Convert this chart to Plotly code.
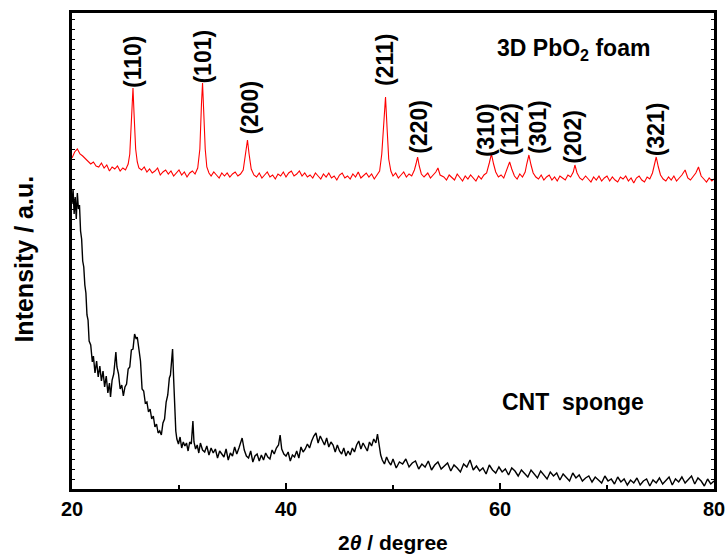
import plotly.graph_objects as go

# ---------------- data ----------------
pbo2_two_theta = [
    20.0, 20.25, 20.5, 20.75, 21.0, 21.25, 21.5, 21.75, 22.0, 22.25, 22.5, 22.75, 23.0, 23.25, 23.5, 23.75,
    24.0, 24.25, 24.5, 24.75, 25.0, 25.25, 25.4, 25.55, 25.7, 25.8, 25.95, 26.1, 26.25, 26.5, 26.75, 27.0,
    27.25, 27.5, 27.75, 28.0, 28.25, 28.5, 28.75, 29.0, 29.25, 29.5, 29.75, 30.0, 30.25, 30.5, 30.75, 31.0,
    31.25, 31.5, 31.75, 31.95, 32.1, 32.2, 32.3, 32.45, 32.6, 32.8, 33.0, 33.25, 33.5, 33.75, 34.0, 34.25,
    34.5, 34.75, 35.0, 35.25, 35.5, 35.75, 36.0, 36.2, 36.4, 36.55, 36.75, 37.0, 37.25, 37.5, 37.75, 38.0,
    38.25, 38.5, 38.75, 39.0, 39.25, 39.5, 39.75, 40.0, 40.25, 40.5, 40.75, 41.0, 41.25, 41.5, 41.75, 42.0,
    42.25, 42.5, 42.75, 43.0, 43.25, 43.5, 43.75, 44.0, 44.25, 44.5, 44.75, 45.0, 45.25, 45.5, 45.75, 46.0,
    46.25, 46.5, 46.75, 47.0, 47.25, 47.5, 47.75, 48.0, 48.25, 48.5, 48.75, 48.95, 49.15, 49.3, 49.45, 49.6,
    49.8, 50.0, 50.25, 50.5, 50.75, 51.0, 51.25, 51.5, 51.75, 52.0, 52.15, 52.3, 52.45, 52.65, 52.9, 53.25,
    53.5, 53.75, 54.0, 54.2, 54.4, 54.75, 55.0, 55.25, 55.5, 55.75, 56.0, 56.25, 56.5, 56.75, 57.0, 57.25,
    57.5, 57.75, 58.0, 58.25, 58.5, 58.75, 59.0, 59.2, 59.4, 59.6, 59.85, 60.1, 60.35, 60.6, 60.9, 61.1,
    61.35, 61.6, 61.85, 62.1, 62.35, 62.5, 62.7, 62.9, 63.1, 63.35, 63.6, 63.85, 64.1, 64.35, 64.6, 64.85,
    65.1, 65.35, 65.6, 65.85, 66.1, 66.35, 66.6, 66.85, 67.0, 67.2, 67.45, 67.7, 68.0, 68.25, 68.5, 68.75,
    69.0, 69.25, 69.5, 69.75, 70.0, 70.25, 70.5, 70.75, 71.0, 71.25, 71.5, 71.75, 72.0, 72.25, 72.5, 72.75,
    73.0, 73.25, 73.5, 73.75, 74.0, 74.25, 74.45, 74.6, 74.8, 75.0, 75.25, 75.5, 75.75, 76.0, 76.25, 76.5,
    76.75, 77.0, 77.3, 77.55, 77.8, 78.05, 78.3, 78.55, 78.8, 79.05, 79.3, 79.55, 79.8, 80.0,
]
pbo2_intensity = [
    331, 337, 340, 335, 333, 330, 328, 325, 327, 323, 322, 326, 321, 324, 318, 322,
    320, 323, 318, 321, 319, 325, 335, 370, 401, 375, 340, 327, 321, 319, 322, 317,
    320, 316, 318, 321, 314, 317, 319, 315, 318, 313, 316, 319, 314, 317, 312, 316,
    318, 315, 321, 340, 385, 406, 380, 340, 322, 316, 313, 317, 314, 311, 316, 313,
    316, 312, 315, 317, 313, 315, 319, 332, 349, 335, 320, 314, 312, 316, 311, 314,
    317, 312, 314, 310, 315, 313, 317, 312, 316, 318, 313, 315, 318, 313, 316, 312,
    314, 311, 316, 313, 310, 315, 312, 316, 311, 313, 309, 314, 316, 311, 313, 310,
    315, 312, 317, 311, 314, 316, 312, 315, 310, 314, 318, 335, 370, 392, 360, 330,
    318, 313, 316, 311, 314, 317, 312, 315, 313, 319, 325, 332, 323, 315, 312, 316,
    311, 314, 317, 321, 314, 312, 309, 314, 311, 309, 315, 312, 308, 313, 310, 314,
    311, 308, 313, 310, 314, 316, 326, 335, 325, 317, 312, 314, 311, 318, 327, 320,
    313, 310, 315, 312, 317, 325, 334, 324, 316, 312, 310, 314, 309, 312, 314, 309,
    312, 308, 313, 311, 309, 314, 312, 317, 324, 316, 311, 309, 313, 310, 307, 312,
    309, 313, 308, 311, 313, 308, 312, 309, 307, 312, 310, 313, 308, 311, 306, 311,
    313, 309, 307, 312, 310, 316, 325, 332, 322, 314, 310, 308, 312, 309, 313, 308,
    311, 314, 319, 311, 309, 312, 316, 322, 313, 310, 307, 311, 308, 310,
]

cnt_two_theta = [
    20.0, 20.1, 20.2, 20.3, 20.4, 20.5, 20.6, 20.7, 20.8, 20.9, 21.0, 21.1, 21.2, 21.3, 21.4, 21.5,
    21.6, 21.75, 21.9, 22.0, 22.15, 22.3, 22.45, 22.6, 22.75, 22.9, 23.05, 23.2, 23.35, 23.5, 23.6, 23.75,
    23.9, 24.0, 24.1, 24.2, 24.35, 24.5, 24.65, 24.8, 24.95, 25.1, 25.25, 25.4, 25.55, 25.7, 25.85, 26.0,
    26.1, 26.25, 26.4, 26.55, 26.7, 26.85, 27.0, 27.15, 27.3, 27.45, 27.6, 27.75, 27.9, 28.05, 28.2, 28.35,
    28.5, 28.65, 28.8, 28.95, 29.1, 29.2, 29.3, 29.4, 29.5, 29.6, 29.7, 29.8, 29.95, 30.1, 30.25, 30.4,
    30.55, 30.7, 30.85, 31.0, 31.15, 31.3, 31.4, 31.55, 31.7, 31.85, 32.0, 32.2, 32.4, 32.6, 32.8, 33.0,
    33.2, 33.4, 33.6, 33.8, 34.0, 34.2, 34.4, 34.6, 34.8, 35.0, 35.2, 35.4, 35.6, 35.75, 35.9, 36.1,
    36.3, 36.5, 36.7, 36.9, 37.1, 37.3, 37.5, 37.7, 37.9, 38.1, 38.3, 38.5, 38.7, 38.9, 39.1, 39.3,
    39.45, 39.6, 39.8, 40.0, 40.2, 40.4, 40.6, 40.8, 41.0, 41.2, 41.4, 41.6, 41.8, 42.0, 42.2, 42.4,
    42.6, 42.8, 43.0, 43.2, 43.4, 43.6, 43.8, 44.0, 44.2, 44.4, 44.6, 44.8, 45.0, 45.2, 45.4, 45.6,
    45.8, 46.0, 46.2, 46.4, 46.6, 46.8, 47.0, 47.2, 47.4, 47.6, 47.8, 48.0, 48.2, 48.4, 48.55, 48.7,
    48.85, 49.0, 49.2, 49.4, 49.6, 49.8, 50.0, 50.3, 50.6, 50.9, 51.2, 51.5, 51.8, 52.1, 52.4, 52.7,
    53.0, 53.3, 53.6, 53.9, 54.2, 54.5, 54.8, 55.1, 55.4, 55.7, 56.0, 56.3, 56.6, 56.9, 57.2, 57.5,
    57.8, 58.1, 58.4, 58.7, 59.0, 59.3, 59.6, 59.9, 60.2, 60.5, 60.8, 61.1, 61.4, 61.7, 62.0, 62.3,
    62.6, 62.9, 63.2, 63.5, 63.8, 64.1, 64.4, 64.7, 65.0, 65.3, 65.6, 65.9, 66.2, 66.5, 66.8, 67.1,
    67.4, 67.7, 68.0, 68.3, 68.6, 68.9, 69.2, 69.5, 69.8, 70.1, 70.4, 70.7, 71.0, 71.3, 71.6, 71.9,
    72.2, 72.5, 72.8, 73.1, 73.4, 73.7, 74.0, 74.3, 74.6, 74.9, 75.2, 75.5, 75.8, 76.1, 76.4, 76.7,
    77.0, 77.3, 77.6, 77.9, 78.2, 78.5, 78.8, 79.1, 79.4, 79.7, 80.0,
]
cnt_intensity = [
    285, 300, 275, 292, 270, 296, 280, 284, 258, 250, 228, 222, 204, 196, 174, 169,
    148, 144, 127, 133, 116, 128, 112, 123, 108, 118, 102, 113, 96, 106, 92, 109,
    115, 131, 137, 122, 115, 100, 104, 93, 102, 105, 120, 122, 139, 140, 155, 150,
    152, 140, 128, 100, 98, 86, 87, 77, 80, 70, 73, 62, 65, 56, 58, 54,
    66, 70, 87, 94, 111, 114, 131, 140, 110, 80, 58, 50, 45, 52, 41, 47,
    43, 46, 38, 47, 45, 68, 47, 40, 44, 36, 46, 39, 37, 43, 34, 41,
    36, 40, 31, 38, 35, 32, 40, 29, 36, 33, 42, 35, 41, 46, 51, 39,
    33, 31, 38, 27, 33, 35, 28, 34, 29, 36, 32, 30, 39, 35, 41, 44,
    54, 40, 35, 33, 37, 28, 34, 32, 38, 31, 42, 37, 40, 45, 41, 48,
    53, 56, 46, 53, 49, 44, 51, 42, 47, 44, 37, 44, 38, 35, 41, 33,
    38, 34, 41, 37, 44, 48, 40, 46, 42, 38, 47, 43, 50, 46, 55, 43,
    34, 29, 25, 32, 27, 24, 30, 21, 27, 25, 30, 22, 26, 28, 20, 25,
    22, 28, 19, 24, 27, 20, 23, 26, 18, 24, 21, 17, 25, 22, 29, 19,
    23, 18, 21, 15, 24, 19, 16, 22, 17, 20, 14, 21, 18, 13, 19, 16,
    12, 19, 15, 11, 18, 14, 10, 17, 13, 16, 9, 15, 12, 8, 16, 11,
    14, 8, 11, 13, 7, 12, 9, 6, 13, 8, 10, 5, 12, 7, 10, 4,
    9, 6, 11, 4, 8, 10, 3, 9, 6, 11, 5, 8, 12, 4, 10, 7,
    12, 6, 10, 13, 5, 11, 8, 3, 10, 5, 8,
]

peak_labels = ["(110)", "(101)", "(200)", "(211)", "(220)", "(310)", "(112)", "(301)", "(202)", "(321)"]
peak_label_two_theta = [25.7, 32.2, 36.6, 49.25, 52.4, 58.7, 60.9, 63.55, 66.8, 74.6]
peak_label_height = [427, 432, 381, 429, 362, 359, 359, 362, 352, 360]

x_tick_values = [20, 40, 60, 80]
x_tick_labels = ["20", "40", "60", "80"]

FONT = "Liberation Sans, Arial, sans-serif"

fig = go.Figure()
fig.add_trace(go.Scatter(x=cnt_two_theta, y=cnt_intensity, mode="lines",
                         line=dict(color="black", width=1.4), showlegend=False))
fig.add_trace(go.Scatter(x=pbo2_two_theta, y=pbo2_intensity, mode="lines",
                         line=dict(color="#ff0000", width=1.1), showlegend=False))

for lab, xv, yv in zip(peak_labels, peak_label_two_theta, peak_label_height):
    fig.add_annotation(x=xv, y=yv, xref="x", yref="y", text="<b>%s</b>" % lab, textangle=-90,
                       showarrow=False, xanchor="center", yanchor="middle",
                       font=dict(family=FONT, size=23, color="black"))

fig.add_annotation(x=66.85, y=440, xref="x", yref="y", text="<b>3D PbO<sub>2</sub> foam</b>",
                   showarrow=False, xanchor="center", yanchor="middle",
                   font=dict(family=FONT, size=23, color="black"))
fig.add_annotation(x=66.85, y=87, xref="x", yref="y", text="<b>CNT\u00a0\u00a0sponge</b>",
                   showarrow=False, xanchor="center", yanchor="middle",
                   font=dict(family=FONT, size=23, color="black"))

fig.add_annotation(x=0.5, y=-0.113, xref="paper", yref="paper", text="<b>2<i>θ</i> / degree</b>",
                   showarrow=False, xanchor="center", yanchor="middle",
                   font=dict(family=FONT, size=21, color="black"))
fig.add_annotation(x=-0.074, y=0.483, xref="paper", yref="paper", text="<b>Intensity / a.u.</b>",
                   textangle=-90, showarrow=False, xanchor="center", yanchor="middle",
                   font=dict(family=FONT, size=25, color="black"))

fig.update_xaxes(range=[20, 80], tickvals=x_tick_values, ticktext=x_tick_labels,
                 ticks="inside", ticklen=6, tickwidth=2, tickcolor="black",
                 minor=dict(dtick=10, ticks="inside", ticklen=4, tickwidth=2, tickcolor="black"),
                 showline=True, linewidth=3, linecolor="black", mirror=True,
                 showgrid=False, zeroline=False, automargin=False,
                 tickfont=dict(family=FONT, size=20, color="black", weight="bold"))
fig.update_yaxes(range=[0, 476], showticklabels=False, ticks="inside", ticklen=3, tickwidth=1,
                 tickcolor="black", dtick=10, automargin=False,
                 showline=True, linewidth=3, linecolor="black", mirror="ticks",
                 showgrid=False, zeroline=False)

fig.update_layout(width=727, height=557, margin=dict(l=72, r=13, t=13, b=68),
                  plot_bgcolor="white", paper_bgcolor="white", showlegend=False,
                  font=dict(family=FONT, color="black"))

fig.write_html("out.html", config={"displayModeBar": False},
               post_script="document.body.style.margin='0';document.body.style.padding='0';")
